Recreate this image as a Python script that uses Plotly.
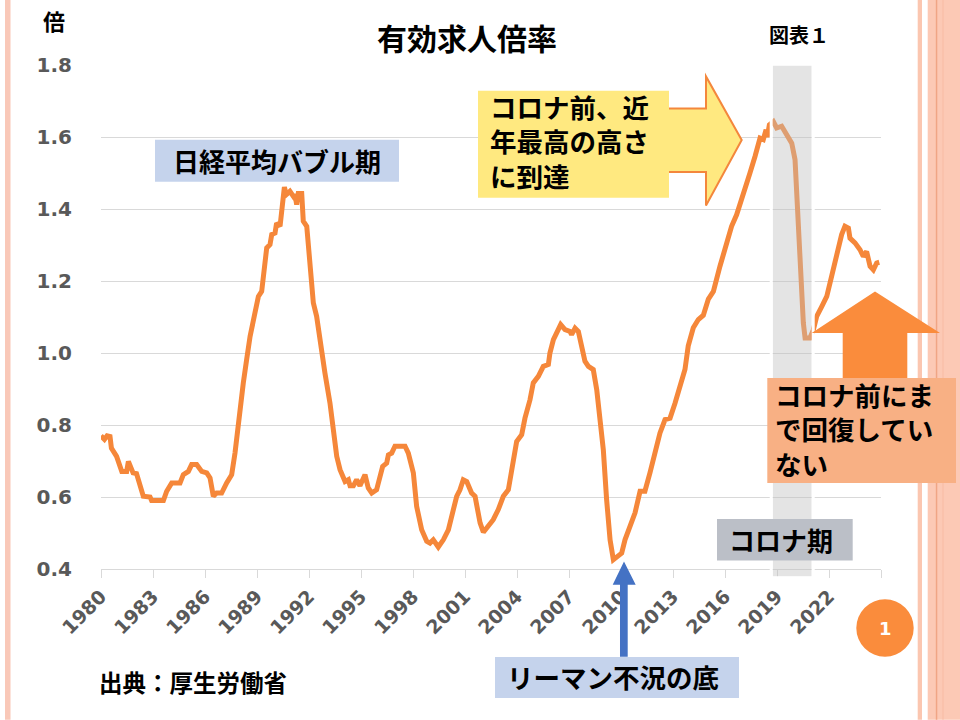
import plotly.graph_objects as go

# ---------------- data ----------------
years = [
    1980.00, 1980.20, 1980.35, 1980.52, 1980.60, 1980.90, 1981.20, 1981.48, 1981.58, 1981.85,
    1982.05, 1982.44, 1982.83, 1982.92, 1983.60, 1983.79, 1984.08, 1984.56, 1984.75, 1985.04,
    1985.23, 1985.52, 1985.81, 1986.10, 1986.29, 1986.48, 1986.67, 1986.96, 1987.25, 1987.54,
    1987.73, 1987.92, 1988.12, 1988.21, 1988.40, 1988.60, 1988.88, 1989.08, 1989.27, 1989.46,
    1989.56, 1989.75, 1989.85, 1990.04, 1990.13, 1990.33, 1990.42, 1990.58, 1990.69, 1990.90,
    1991.10, 1991.19, 1991.29, 1991.38, 1991.58, 1991.67, 1991.87, 1992.06, 1992.25, 1992.44,
    1992.73, 1992.92, 1993.21, 1993.40, 1993.60, 1993.79, 1994.08, 1994.27, 1994.37, 1994.56,
    1994.75, 1994.94, 1995.23, 1995.42, 1995.62, 1995.90, 1996.10, 1996.25, 1996.48, 1996.58,
    1996.77, 1996.96, 1997.54, 1997.73, 1998.02, 1998.21, 1998.50, 1998.79, 1998.98, 1999.17,
    1999.46, 1999.75, 2000.04, 2000.33, 2000.52, 2000.71, 2000.90, 2001.10, 2001.38, 2001.58,
    2001.87, 2002.06, 2002.35, 2002.63, 2002.92, 2003.21, 2003.50, 2003.79, 2003.98, 2004.27,
    2004.46, 2004.75, 2004.94, 2005.23, 2005.52, 2005.81, 2005.90, 2006.10, 2006.29, 2006.52,
    2006.77, 2007.06, 2007.15, 2007.35, 2007.54, 2007.73, 2007.92, 2008.12, 2008.40, 2008.60,
    2008.79, 2008.98, 2009.17, 2009.37, 2009.56, 2009.75, 2010.04, 2010.23, 2010.52, 2010.81,
    2011.10, 2011.38, 2011.67, 2011.96, 2012.25, 2012.54, 2012.83, 2013.12, 2013.40, 2013.69,
    2013.88, 2014.17, 2014.46, 2014.75, 2015.04, 2015.33, 2015.71, 2016.10, 2016.38, 2016.67,
    2016.96, 2017.25, 2017.44, 2017.73, 2018.02, 2018.21, 2018.37, 2018.44, 2018.56, 2018.79,
    2018.98, 2019.27, 2019.56, 2019.85, 2020.04, 2020.13, 2020.23, 2020.33, 2020.42, 2020.52,
    2020.62, 2020.90, 2021.10, 2021.29, 2021.58, 2021.87, 2022.15, 2022.44, 2022.73, 2022.92,
    2023.12, 2023.21, 2023.50, 2023.79, 2023.98, 2024.17, 2024.37, 2024.56, 2024.75, 2024.90,
]
ratio = [
    0.770, 0.760, 0.770, 0.768, 0.736, 0.713, 0.671, 0.671, 0.699, 0.667,
    0.665, 0.602, 0.600, 0.590, 0.590, 0.616, 0.639, 0.639, 0.662, 0.671,
    0.690, 0.690, 0.671, 0.667, 0.653, 0.602, 0.611, 0.611, 0.639, 0.662,
    0.722, 0.806, 0.898, 0.917, 0.981, 1.046, 1.111, 1.157, 1.171, 1.268,
    1.292, 1.301, 1.329, 1.333, 1.361, 1.352, 1.398, 1.461, 1.440, 1.449,
    1.435, 1.440, 1.412, 1.443, 1.443, 1.366, 1.352, 1.231, 1.139, 1.102,
    1.000, 0.944, 0.861, 0.775, 0.713, 0.676, 0.643, 0.648, 0.631, 0.631,
    0.648, 0.631, 0.662, 0.625, 0.611, 0.620, 0.653, 0.685, 0.694, 0.717,
    0.722, 0.741, 0.741, 0.722, 0.667, 0.574, 0.509, 0.477, 0.472, 0.481,
    0.461, 0.481, 0.509, 0.565, 0.602, 0.620, 0.648, 0.643, 0.611, 0.602,
    0.528, 0.502, 0.518, 0.537, 0.565, 0.602, 0.620, 0.694, 0.754, 0.773,
    0.819, 0.870, 0.917, 0.935, 0.963, 0.968, 1.000, 1.037, 1.060, 1.079,
    1.065, 1.060, 1.051, 1.069, 1.060, 1.018, 0.977, 0.963, 0.954, 0.898,
    0.824, 0.731, 0.593, 0.481, 0.426, 0.435, 0.444, 0.481, 0.518, 0.556,
    0.616, 0.616, 0.667, 0.722, 0.778, 0.815, 0.819, 0.861, 0.907, 0.954,
    1.020, 1.070, 1.093, 1.105, 1.150, 1.171, 1.241, 1.306, 1.352, 1.384,
    1.426, 1.463, 1.500, 1.546, 1.597, 1.593, 1.620, 1.600, 1.634, 1.643,
    1.625, 1.630, 1.606, 1.583, 1.537, 1.444, 1.352, 1.241, 1.157, 1.083,
    1.042, 1.042, 1.065, 1.102, 1.129, 1.157, 1.213, 1.278, 1.329, 1.352,
    1.347, 1.319, 1.306, 1.287, 1.268, 1.282, 1.241, 1.231, 1.250, 1.252,
]
tick_years = [1980, 1983, 1986, 1989, 1992, 1995, 1998, 2001, 2004, 2007, 2010, 2013, 2016, 2019, 2022]
tick_labels = [str(y) for y in tick_years]
y_ticks = [0.4, 0.6, 0.8, 1.0, 1.2, 1.4, 1.6, 1.8]

# ---------------- layout geometry ----------------
W, H = 960, 720
L, R, T, B = 101, 881, 65.3, 569.3


def px(x):
    return (x - L) / (R - L)


def py(y):
    return (B - y) / (B - T)


JP = "Noto Sans CJK JP"
NUM = "DejaVu Sans"
ORANGE_LINE = "#F5873A"

fig = go.Figure()
fig.add_trace(go.Scatter(
    x=years, y=ratio, mode="lines",
    line=dict(color=ORANGE_LINE, width=5),
    hoverinfo="skip",
))

shapes = []


def rect(x0, y0, x1, y1, fill, line_color=None, line_width=0, opacity=1.0):
    shapes.append(dict(
        type="rect", xref="paper", yref="paper",
        x0=px(x0), x1=px(x1), y0=py(y1), y1=py(y0),
        fillcolor=fill, opacity=opacity, layer="above",
        line=dict(color=line_color or fill, width=line_width),
    ))


def poly(points, fill, line_color=None, line_width=0):
    d = "M " + " L ".join(f"{px(a):.5f},{py(b):.5f}" for a, b in points) + " Z"
    shapes.append(dict(
        type="path", xref="paper", yref="paper", path=d,
        fillcolor=fill, layer="above",
        line=dict(color=line_color or fill, width=line_width),
    ))


# corona band (semi-transparent gray with white edge)
rect(772.7, 65.3, 811.7, 577, "#BFBFBF", opacity=0.42)
shapes.append(dict(type="rect", xref="paper", yref="paper",
                   x0=px(771.2), x1=px(813.2), y0=py(578), y1=py(64.5),
                   fillcolor="rgba(0,0,0,0)", layer="above",
                   line=dict(color="white", width=3)))

# borders of the slide
rect(5, 0, 10.5, 720, "#F9C8B8")
rect(917.7, 0, 922, 720, "#FBC6B0")
rect(927.7, 0, 960, 720, "#FCC9B5")
rect(935.8, 0, 937.3, 720, "#F0A585")
rect(942.5, 0, 943.5, 720, "#F8BCA4")

# bubble label box
rect(155, 140, 399, 182, "#C5D3EC")

# yellow right arrow + box
poly([(666, 108.7), (706, 108.7), (706, 76.7), (741.7, 140.3),
      (706, 205.7), (706, 172.3), (666, 172.3)],
     "#FFE980", line_color="#F4873C", line_width=2)
rect(478, 91, 669, 198, "#FFE980")

# orange up arrow + box
poly([(842.7, 379), (842.7, 333.3), (811.7, 333.3), (875, 291.7),
      (940, 333.3), (907.3, 333.3), (907.3, 379)], "#FA8C3C")
rect(767.3, 378.3, 956, 483.3, "#F8B084")

# corona period label box
rect(717, 519.3, 852.7, 560.7, "#BBBFC7")

# blue up arrow + Lehman box
poly([(620, 657), (620, 585), (612.7, 585), (624, 561.7),
      (635.7, 585), (627.7, 585), (627.7, 657)], "#4472C4")
rect(495, 657.3, 739, 698.3, "#C5D3EC")

# page number circle
shapes.append(dict(type="circle", xref="paper", yref="paper",
                   x0=px(856.3), x1=px(913.7), y0=py(657), y1=py(599.6),
                   fillcolor="#FA8C3C", line=dict(color="#FA8C3C", width=0),
                   layer="above"))

annotations = []


def text(x, y, s, size, color="black", family=JP, xanchor="center", align="center"):
    annotations.append(dict(
        x=px(x), y=py(y), xref="paper", yref="paper", text=s, showarrow=False,
        xanchor=xanchor, yanchor="middle", align=align,
        font=dict(family=family, size=size, color=color, weight="bold"),
    ))


text(466.7, 37, "有効求人倍率", 30)
text(54, 20, "倍", 22)
text(798.7, 35, "図表１", 20)
text(277, 161, "日経平均バブル期", 26)
text(488, 141, "コロナ前、近<br>年最高の高さ<br>に到達", 26.5, xanchor="left", align="left")
text(773, 429, "コロナ前にま<br>で回復してい<br>ない", 26.5, xanchor="left", align="left")
text(781, 540, "コロナ期", 26)
text(612.5, 677, "リーマン不況の底", 26.5)
text(885, 628.3, "1", 18, color="white", family=NUM)
text(192.5, 682, "出典：厚生労働省", 23.5)

fig.update_layout(
    width=W, height=H,
    margin=dict(l=L, r=W - R, t=T, b=H - B, pad=0),
    paper_bgcolor="white", plot_bgcolor="white",
    showlegend=False, hovermode=False,
    shapes=shapes, annotations=annotations,
)
fig.update_xaxes(
    range=[1980, 2025],
    tickvals=tick_years + [2025], ticktext=tick_labels + [""],
    tickangle=-45, ticks="outside", ticklen=8, tickcolor="#D9D9D9", tickwidth=1,
    showgrid=False, showline=True, linecolor="#D9D9D9", linewidth=1, zeroline=False,
    tickfont=dict(family=NUM, size=19, color="#595959", weight="bold"),
)
fig.update_yaxes(
    range=[0.4, 1.8], tickvals=y_ticks, tickformat=".1f",
    showgrid=True, gridcolor="#D9D9D9", gridwidth=1, zeroline=False,
    showline=False, ticks="", ticklabelstandoff=28,
    tickfont=dict(family=NUM, size=20, color="#595959", weight="bold"),
)

fig.write_html("out.html", config={"displayModeBar": False, "staticPlot": True},
               post_script="document.body.style.margin='0';")
